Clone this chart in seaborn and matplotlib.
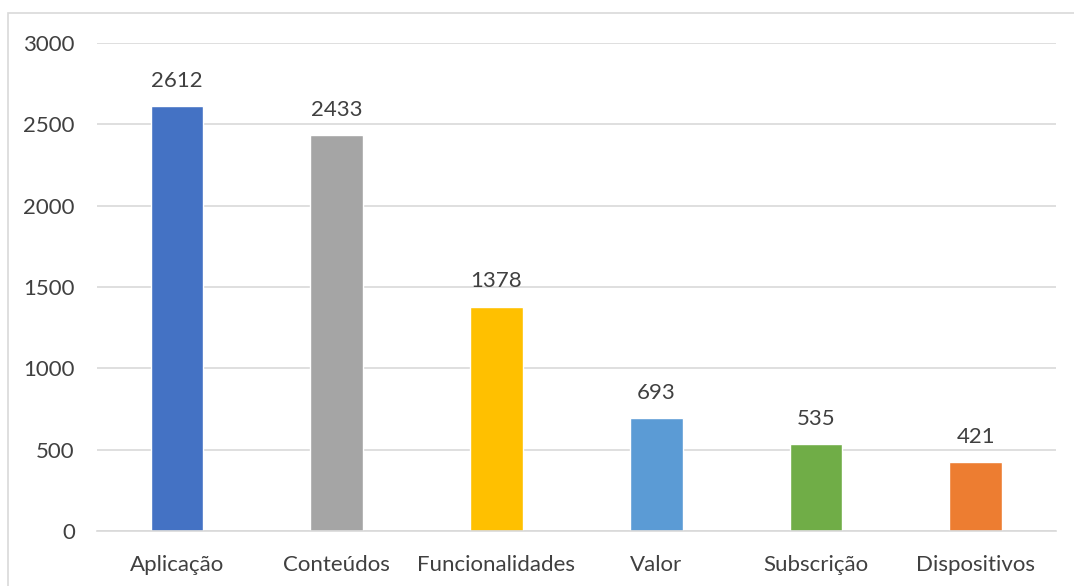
import matplotlib
matplotlib.use("Agg")
import matplotlib.pyplot as plt
import seaborn as sns
import pandas as pd
from matplotlib.patches import Rectangle

categories = ["Aplicação", "Conteúdos", "Funcionalidades", "Valor", "Subscrição", "Dispositivos"]
values = [2612, 2433, 1378, 693, 535, 421]
colors = ["#4472C4", "#A5A5A5", "#FFC000", "#5B9BD5", "#70AD47", "#ED7D31"]
yticks = [0, 500, 1000, 1500, 2000, 2500, 3000]

sns.set_theme(style="white")
plt.rcParams['font.family'] = ['Lato', 'DejaVu Sans']

df = pd.DataFrame({"cat": categories, "val": values})

fig = plt.figure(figsize=(10.74, 5.86), dpi=100)
ax = fig.add_axes([0.0903, 0.0939, 0.8927, 0.8327])
sns.barplot(data=df, x="cat", y="val", hue="cat", palette=colors, legend=False,
            width=0.33, ax=ax, saturation=1)

ax.set_ylim(0, 3000)
ax.set_xlim(-0.5, 5.5)
ax.set_yticks(yticks)
ax.set_yticklabels([str(t) for t in yticks])
ax.yaxis.grid(True, color="#D9D9D9", linewidth=1.2)
ax.set_axisbelow(True)
for s in ["top", "right", "left"]:
    ax.spines[s].set_visible(False)
ax.spines["bottom"].set_color("#D9D9D9")
ax.spines["bottom"].set_linewidth(1.2)
ax.set_xlabel("")
ax.set_ylabel("")
ax.tick_params(axis="both", length=0, labelsize=16, colors="#404040")
ax.tick_params(axis="y", pad=16)
ax.tick_params(axis="x", pad=17)

for i, v in enumerate(values):
    ax.text(i, v + 95, str(v), ha="center", va="bottom", fontsize=16, color="#404040")

fig.patches.append(Rectangle((8/1074, -0.1), 1.2, 1 - 13/586 + 0.1, transform=fig.transFigure,
                             fill=False, edgecolor="#D9D9D9", linewidth=1.2))

fig.savefig("out.png", dpi=100)
